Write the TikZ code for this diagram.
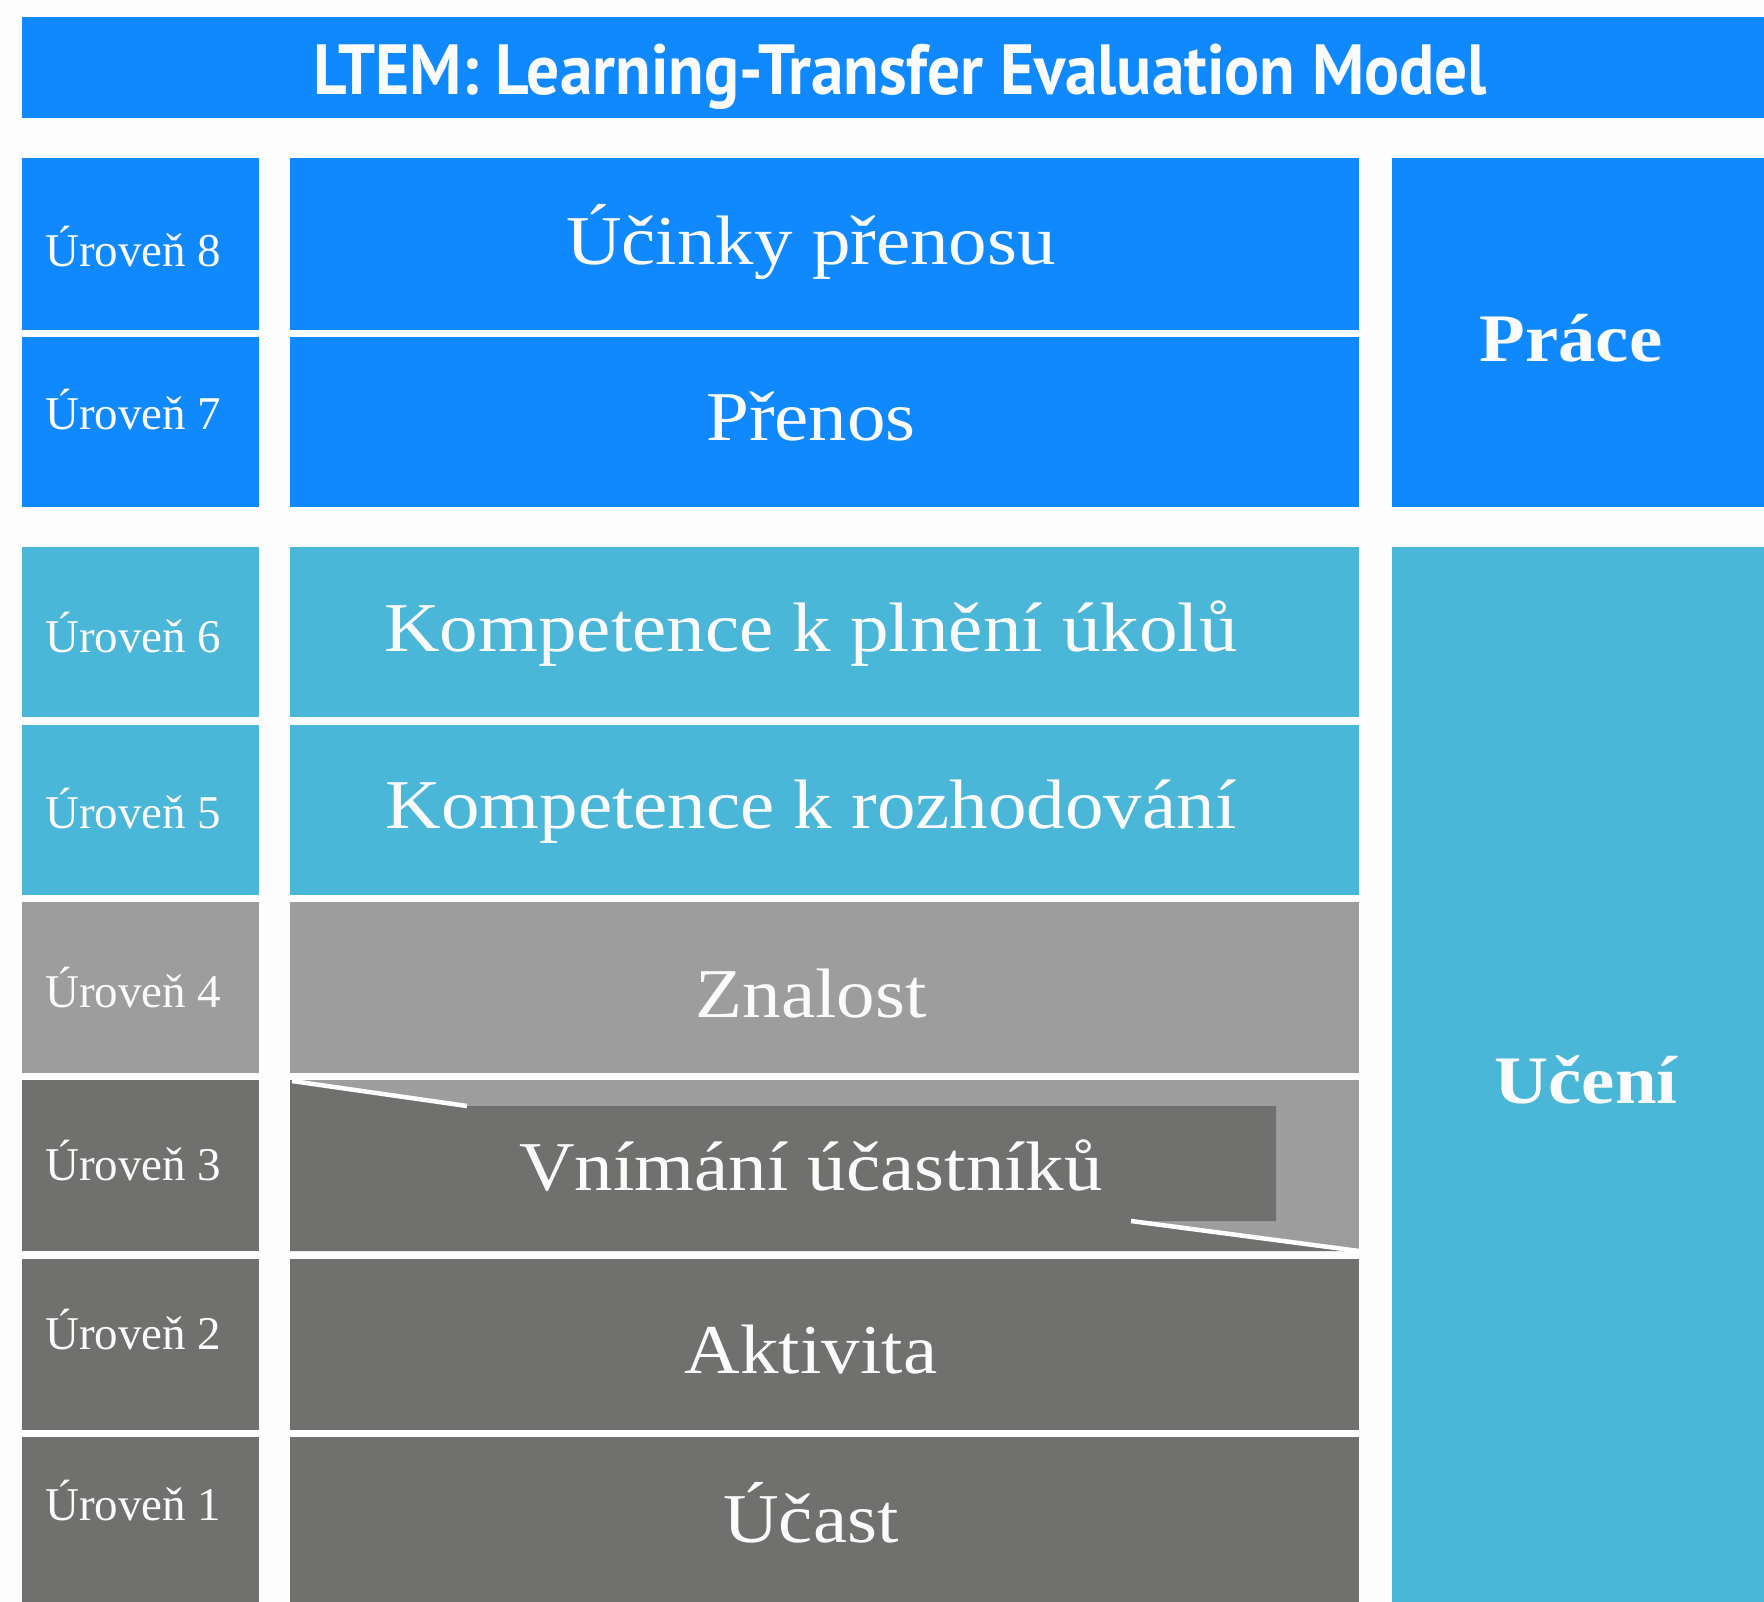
\documentclass[tikz,border=0pt]{standalone}
\usepackage{fontspec}
\setmainfont[FakeStretch=1.1]{Liberation Serif}
\newfontfamily\lvlfont{Liberation Serif}
\newfontfamily\titlefont[FakeStretch=0.92]{PT Sans}
\definecolor{cblue}{HTML}{1189FE}
\definecolor{cteal}{HTML}{4AB6D8}
\definecolor{clgray}{HTML}{9C9D9C}
\definecolor{cdgray}{HTML}{70706F}
\definecolor{cbg}{HTML}{FDFDFD}
\definecolor{ctext}{HTML}{FBFBFB}
\tikzset{
  lvl/.style={anchor=west, inner sep=0pt, text=ctext, font=\lvlfont\fontsize{47}{52}\selectfont},
  main/.style={inner sep=0pt, text=ctext, font=\fontsize{70}{78}\selectfont},
  side/.style={inner sep=0pt, text=ctext, font=\fontsize{68}{76}\selectfont\bfseries},
  ttl/.style={inner sep=0pt, text=ctext, font=\titlefont\bfseries\fontsize{71}{78}\selectfont},
  slant/.style={draw=white, line width=4.5pt}
}
\begin{document}
\begin{tikzpicture}[x=1pt,y=-1pt]
\useasboundingbox (0,0) rectangle (1764,1602);
\fill[cbg] (0,0) rectangle (1764,1602);
% title
\fill[cblue] (22,17) rectangle (1764,118);
\node[ttl] (title) at (900,77) {LTEM: Learning-Transfer Evaluation Model};
% column 1 and 2 rows
\fill[cblue] (22,158) rectangle (259,330);
\fill[cblue] (290,158) rectangle (1359,330);
\fill[cblue] (22,337) rectangle (259,507);
\fill[cblue] (290,337) rectangle (1359,507);
\fill[cteal] (22,547) rectangle (259,717);
\fill[cteal] (290,547) rectangle (1359,717);
\fill[cteal] (22,725) rectangle (259,895);
\fill[cteal] (290,725) rectangle (1359,895);
\fill[clgray] (22,902) rectangle (259,1073);
\fill[clgray] (290,902) rectangle (1359,1073);
\fill[cdgray] (22,1080) rectangle (259,1251);
\fill[clgray] (290,1080) rectangle (1359,1251);
\fill[cdgray] (290,1080) -- (467,1106) -- (1276,1106) -- (1276,1221) -- (1131,1221) -- (1359,1251) -- (290,1251) -- cycle;
\draw[slant] (292,1081) -- (467,1106);
\draw[slant] (1131,1221) -- (1359,1251);
\fill[cdgray] (22,1259) rectangle (259,1430);
\fill[cdgray] (290,1259) rectangle (1359,1430);
\fill[cdgray] (22,1437) rectangle (259,1602);
\fill[cdgray] (290,1437) rectangle (1359,1602);
% column 3
\fill[cblue] (1392,158) rectangle (1764,507);
\fill[cteal] (1392,547) rectangle (1764,1602);
% level labels
\node[lvl] (l8) at (45,247) {Úroveň 8};
\node[lvl] (l7) at (45,410) {Úroveň 7};
\node[lvl] (l6) at (45,633) {Úroveň 6};
\node[lvl] (l5) at (45,809) {Úroveň 5};
\node[lvl] (l4) at (45,988) {Úroveň 4};
\node[lvl] (l3) at (45,1161) {Úroveň 3};
\node[lvl] (l2) at (45,1330) {Úroveň 2};
\node[lvl] (l1) at (45,1501) {Úroveň 1};
% main labels
\node[main] (m8) at (811,242) {Účinky přenosu};
\node[main] (m7) at (811,416) {Přenos};
\node[main] (m6) at (811,634) {Kompetence k plnění úkolů};
\node[main] (m5) at (811,812) {Kompetence k rozhodování};
\node[main] (m4) at (811,994) {Znalost};
\node[main] (m3) at (811,1166) {Vnímání účastníků};
\node[main] (m2) at (811,1350) {Aktivita};
\node[main] (m1) at (811,1513) {Účast};
% side labels
\node[side] (prace) at (1571,338) {Práce};
\node[side] (uceni) at (1586,1080) {Učení};
\end{tikzpicture}
\end{document}
